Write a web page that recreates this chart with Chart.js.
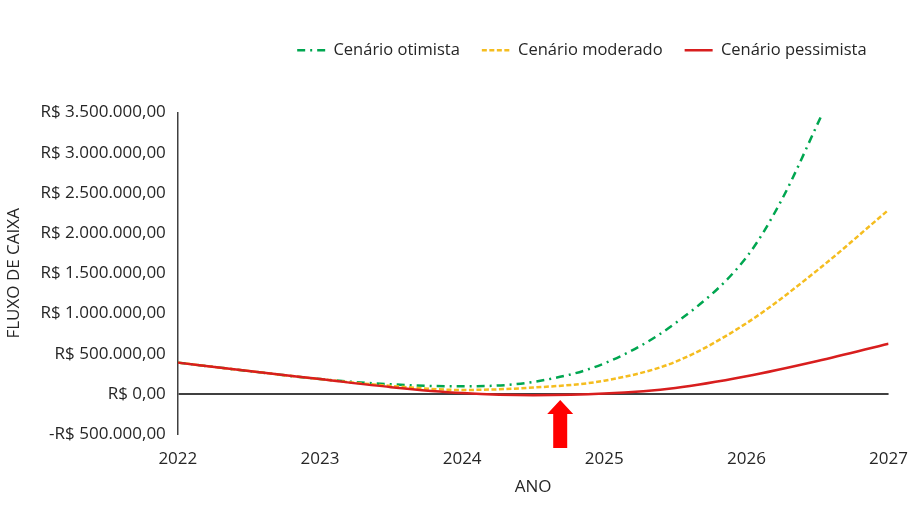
<!DOCTYPE html>
<html>
<head>
<meta charset="utf-8">
<script src="https://cdn.jsdelivr.net/npm/chart.js@4"></script>
<style>
    html, body { margin: 0; padding: 0; background: #fff; }
    #wrap { width: 915px; height: 509px; }
</style>
</head>
<body>
<div id="wrap"><canvas id="fluxo"></canvas></div>
<script>
// valores (R$)
const anos = [2022, 2022.5, 2023, 2023.5, 2024, 2024.5, 2025, 2025.5, 2026, 2026.5, 2027];
const anosOtimista = [2022, 2022.5, 2023, 2023.5, 2024, 2024.5, 2025, 2025.5, 2026, 2026.25, 2026.53];
const otimista = [390000, 285000, 185000, 120000, 95000, 150000, 380000, 880000, 1700000, 2420000, 3470000];
const moderado = [390000, 285000, 185000, 100000, 50000, 80000, 165000, 400000, 880000, 1540000, 2290000];
const pessimista = [390000, 285000, 185000, 85000, 12000, -15000, 5000, 75000, 220000, 410000, 625000];
const anoTicks = [2022, 2023, 2024, 2025, 2026, 2027];
const setaAno = 2024.69;

const fonte = "'Open Sans', sans-serif";

function pontos(xs, ys) {
    return xs.map(function (x, i) { return {x: x, y: ys[i]}; });
}

function formatoReal(v) {
    let abs = Math.abs(v);
    let inteiro = Math.round(abs).toString().replace(/\B(?=(\d{3})+(?!\d))/g, '.');
    return (v < 0 ? '-' : '') + 'R$ ' + inteiro + ',00';
}

// seta vermelha apontando para o ponto de virada
const seta = {
    id: 'seta',
    afterDatasetsDraw: function (chart) {
        let ctx = chart.ctx;
        let x = chart.scales.x.getPixelForValue(setaAno);
        let y0 = chart.scales.y.getPixelForValue(0);
        ctx.save();
        ctx.fillStyle = '#ff0000';
        ctx.beginPath();
        ctx.moveTo(x, y0 + 6);
        ctx.lineTo(x + 13, y0 + 20);
        ctx.lineTo(x + 7, y0 + 20);
        ctx.lineTo(x + 7, y0 + 54);
        ctx.lineTo(x - 7, y0 + 54);
        ctx.lineTo(x - 7, y0 + 20);
        ctx.lineTo(x - 13, y0 + 20);
        ctx.closePath();
        ctx.fill();
        ctx.restore();
    }
};

// espaço extra abaixo da legenda
const margemLegenda = {
    id: 'margemLegenda',
    beforeInit: function (chart) {
        let fit = chart.legend.fit;
        chart.legend.fit = function () {
            fit.bind(chart.legend)();
            this.height += 44;
        };
    }
};

new Chart(document.getElementById('fluxo'), {
    type: 'line',
    data: {
        datasets: [
            {
                label: 'Cenário otimista',
                data: pontos(anosOtimista, otimista),
                borderColor: '#00a650',
                backgroundColor: '#00a650',
                borderWidth: 2.5,
                borderDash: [8, 5, 2, 5],
                pointRadius: 0,
                cubicInterpolationMode: 'monotone',
                order: 2
            },
            {
                label: 'Cenário moderado',
                data: pontos(anos, moderado),
                borderColor: '#f5bd1f',
                backgroundColor: '#f5bd1f',
                borderWidth: 2.5,
                borderDash: [5, 2.5],
                pointRadius: 0,
                cubicInterpolationMode: 'monotone',
                order: 1
            },
            {
                label: 'Cenário pessimista',
                data: pontos(anos, pessimista),
                borderColor: '#d81e1e',
                backgroundColor: '#d81e1e',
                borderWidth: 2.5,
                pointRadius: 0,
                cubicInterpolationMode: 'monotone',
                order: 0
            }
        ]
    },
    options: {
        responsive: true,
        maintainAspectRatio: false,
        animation: false,
        layout: {
            padding: {top: 20, right: 5, bottom: 12, left: 4}
        },
        plugins: {
            tooltip: {enabled: false},
            legend: {
                position: 'top',
                align: 'end',
                fullSize: false,
                labels: {
                    usePointStyle: true,
                    pointStyle: 'line',
                    pointStyleWidth: 28,
                    padding: 22,
                    color: '#262626',
                    font: {family: fonte, size: 16.5},
                    sort: function (a, b) {
                        return a.datasetIndex - b.datasetIndex;
                    },
                    generateLabels: function (chart) {
                        let items = Chart.defaults.plugins.legend.labels.generateLabels(chart);
                        items.forEach(function (item) {
                            let ds = chart.data.datasets[item.datasetIndex];
                            item.lineDash = ds.borderDash || [];
                            item.lineWidth = 2.5;
                            item.strokeStyle = ds.borderColor;
                        });
                        return items;
                    }
                }
            }
        },
        scales: {
            x: {
                type: 'linear',
                min: 2022,
                max: 2027,
                afterBuildTicks: function (axis) {
                    axis.ticks = anoTicks.map(function (v) { return {value: v}; });
                },
                grid: {display: false},
                border: {display: false},
                ticks: {
                    padding: 7,
                    color: '#262626',
                    font: {family: fonte, size: 17},
                    callback: function (v) { return String(v); },
                    maxRotation: 0
                },
                title: {
                    display: true,
                    text: 'ANO',
                    color: '#262626',
                    font: {family: fonte, size: 17},
                    padding: {top: 0, bottom: 0}
                }
            },
            y: {
                min: -500000,
                max: 3500000,
                ticks: {
                    stepSize: 500000,
                    padding: 12,
                    color: '#262626',
                    font: {family: fonte, size: 17},
                    callback: function (v) { return formatoReal(v); }
                },
                grid: {
                    drawTicks: false,
                    lineWidth: 2,
                    color: function (c) {
                        return c.tick && c.tick.value === 0 ? '#404040' : 'rgba(0,0,0,0)';
                    }
                },
                border: {display: true, color: '#404040', width: 1.5},
                title: {
                    display: true,
                    text: 'FLUXO DE CAIXA',
                    color: '#262626',
                    font: {family: fonte, size: 17},
                    padding: {top: 0, bottom: 4}
                }
            }
        }
    },
    plugins: [seta, margemLegenda]
});
</script>
</body>
</html>
